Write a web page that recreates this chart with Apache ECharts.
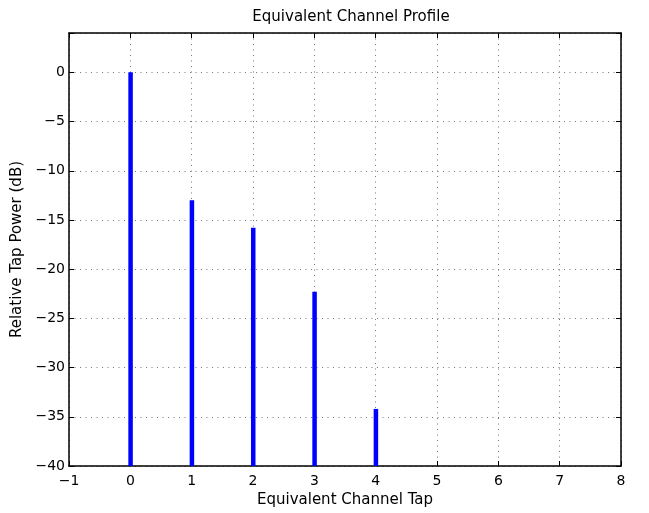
<!DOCTYPE html>
<html><head><meta charset="utf-8">
<script src="https://cdn.jsdelivr.net/npm/echarts@6/dist/echarts.min.js"></script>
<style>html,body{margin:0;padding:0;background:#fff}#c{width:649px;height:513px}</style>
</head><body><div id="c"></div>
<script>
const taps = [0, 1, 2, 3, 4];
const powerDb = [0, -13.0, -15.8, -22.3, -34.2];
const xTicks = [-1, 0, 1, 2, 3, 4, 5, 6, 7, 8];
const yTicks = [-40, -35, -30, -25, -20, -15, -10, -5, 0];
const titleText = 'Equivalent Channel Profile';
const xLabel = 'Equivalent Channel Tap';
const yLabel = 'Relative Tap Power (dB)';

const FONT = 'DejaVu Sans, Liberation Sans, Arial, sans-serif';
const mk = ticks => v => ticks.indexOf(v) >= 0 ? String(v).replace('-', '\u2212') : '';
const grid = {left: 69, right: 28, top: 33, bottom: 45};
const splitStyle = {show: true, lineStyle: {color: '#777', type: [1, 4.5], width: 1}};

const chart = echarts.init(document.getElementById('c'), null, {renderer: 'canvas'});
chart.setOption({
  animation: false,
  backgroundColor: '#fff',
  title: {text: titleText, left: 346, top: 5, textAlign: 'center',
    textStyle: {fontFamily: FONT, fontSize: 15, fontWeight: 'normal', color: '#000'}},
  grid: grid,
  xAxis: [
    {type: 'value', min: -1, max: 8, interval: 1, position: 'bottom',
     name: xLabel, nameLocation: 'middle', nameGap: 27,
     nameTextStyle: {fontFamily: FONT, fontSize: 15, color: '#000'},
     axisLine: {show: true, onZero: false, lineStyle: {color: '#000', width: 1.5}},
     axisTick: {show: true, inside: true, length: 5, lineStyle: {color: '#000'}},
     axisLabel: {formatter: mk(xTicks), fontFamily: FONT, fontSize: 14, color: '#000', margin: 8},
     splitLine: splitStyle},
    {type: 'value', min: -1, max: 8, interval: 1, position: 'top',
     axisLine: {show: true, onZero: false, lineStyle: {color: '#000', width: 1.5}},
     axisTick: {show: true, inside: true, length: 5, lineStyle: {color: '#000'}},
     axisLabel: {show: false}, splitLine: {show: false}}
  ],
  yAxis: [
    {type: 'value', min: -40, max: 4, interval: 5, position: 'left',
     name: yLabel, nameLocation: 'middle', nameGap: 39,
     nameTextStyle: {fontFamily: FONT, fontSize: 15, color: '#000'},
     axisLine: {show: true, onZero: false, lineStyle: {color: '#000', width: 1.5}},
     axisTick: {show: true, inside: true, length: 5, lineStyle: {color: '#000'}},
     axisLabel: {formatter: mk(yTicks), fontFamily: FONT, fontSize: 14, color: '#000', margin: 4},
     splitLine: splitStyle},
    {type: 'value', min: -40, max: 4, interval: 5, position: 'right',
     axisLine: {show: true, onZero: false, lineStyle: {color: '#000', width: 1.5}},
     axisTick: {show: true, inside: true, length: 5, lineStyle: {color: '#000'}},
     axisLabel: {show: false}, splitLine: {show: false}}
  ],
  series: [{
    type: 'custom',
    xAxisIndex: 0, yAxisIndex: 0,
    data: taps.map((t, i) => [t, powerDb[i]]),
    renderItem: function (params, api) {
      const top = api.coord([api.value(0), api.value(1)]);
      const bot = api.coord([api.value(0), -40]);
      return {type: 'rect', shape: {x: top[0] - 2, y: top[1], width: 4.5, height: bot[1] - top[1]},
        style: {fill: '#0000ff'}};
    }
  }]
});
</script></body></html>
